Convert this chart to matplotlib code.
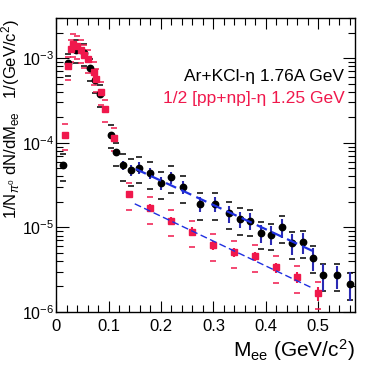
import matplotlib.pyplot as plt
import numpy as np
from matplotlib.ticker import MultipleLocator, LogLocator, NullFormatter

plt.rcParams['font.family'] = ['Liberation Sans', 'DejaVu Sans']
plt.rcParams['mathtext.fontset'] = 'custom'
plt.rcParams['mathtext.rm'] = 'Liberation Sans'
plt.rcParams['mathtext.it'] = 'Liberation Sans:italic'

# Ar+KCl - eta, 1.76A GeV
ar_m = [0.013, 0.0225, 0.0385, 0.054, 0.064, 0.075, 0.084, 0.104, 0.114, 0.1275,
        0.142, 0.159, 0.18, 0.201, 0.22, 0.243, 0.274, 0.304, 0.329, 0.35,
        0.369, 0.39, 0.409, 0.43, 0.45, 0.47, 0.49, 0.51, 0.536, 0.56]
ar_y = [5.4e-5, 8.7e-4, 1.25e-3, 1.15e-3, 7.6e-4, 5.5e-4, 3.75e-4, 1.25e-4, 7.7e-5, 5.4e-5,
        4.8e-5, 5.1e-5, 4.4e-5, 3.35e-5, 3.9e-5, 3.0e-5, 1.9e-5, 1.9e-5, 1.46e-5, 1.25e-5,
        1.2e-5, 8.6e-6, 8.2e-6, 1.0e-5, 6.5e-6, 6.7e-6, 4.4e-6, 2.75e-6, 2.7e-6, 2.15e-6]
ar_stat = [0.05, 0.03, 0.03, 0.03, 0.03, 0.03, 0.04, 0.06, 0.08, 0.12,
           0.15, 0.15, 0.15, 0.17, 0.17, 0.18, 0.2, 0.2, 0.22, 0.22,
           0.22, 0.25, 0.25, 0.25, 0.28, 0.28, 0.3, 0.35, 0.3, 0.38]
ar_sys = [0.35, 0.3, 0.3, 0.3, 0.3, 0.3, 0.3, 0.3, 0.3, 0.35,
          0.35, 0.35, 0.35, 0.35, 0.35, 0.35, 0.35, 0.35, 0.35, 0.35,
          0.35, 0.35, 0.35, 0.35, 0.35, 0.35, 0.35, 0.35, 0.35, 0.35]

# 1/2 [pp+np] - eta, 1.25 GeV
pp_m = [0.0175, 0.0225, 0.028, 0.033, 0.040, 0.048, 0.054, 0.061, 0.073, 0.077,
        0.085, 0.094, 0.110, 0.139, 0.18, 0.22, 0.26, 0.299, 0.339, 0.38,
        0.42, 0.46, 0.50]
pp_y = [1.25e-4, 8.0e-4, 1.28e-3, 1.48e-3, 1.4e-3, 1.25e-3, 1.1e-3, 9.7e-4, 6.9e-4, 5.7e-4,
        4.0e-4, 2.5e-4, 1.14e-4, 2.45e-5, 1.7e-5, 1.2e-5, 8.9e-6, 6.2e-6, 5.1e-6, 4.6e-6,
        3.36e-6, 2.57e-6, 1.66e-6]
pp_stat = [0.04, 0.03, 0.03, 0.03, 0.03, 0.03, 0.03, 0.03, 0.03, 0.03,
           0.04, 0.05, 0.06, 0.1, 0.1, 0.12, 0.12, 0.12, 0.12, 0.12,
           0.14, 0.15, 0.18]
pp_sys = [0.35, 0.3, 0.3, 0.3, 0.3, 0.3, 0.3, 0.3, 0.3, 0.3,
          0.3, 0.3, 0.3, 0.35, 0.35, 0.35, 0.35, 0.35, 0.35, 0.35,
          0.35, 0.35, 0.35]

# exponential fits (endpoints)
ar_fit_m = [0.152, 0.497]
ar_fit_y = [4.9e-5, 5.0e-6]
pp_fit_m = [0.15, 0.49]
pp_fit_y = [1.9e-5, 1.9e-6]

red = '#f0184c'
navy = '#2a2ab4'

fig = plt.figure(figsize=(3.74, 3.74), dpi=100)
ax = fig.add_axes([0.150, 0.166, 0.799, 0.786])


def draw(ax, m, y, stat, sys, marker, mcol, ecol, dcol, ms, z):
    m = np.array(m)
    y = np.array(y)
    stat = np.array(stat)
    sys = np.array(sys)
    ax.errorbar(m, y, yerr=y * stat, fmt='none', ecolor=ecol, elinewidth=1.5, capsize=0, zorder=z)
    ax.plot(m, y * (1 + sys), ls='none', marker='_', ms=4.5, mew=1.1, color=dcol, zorder=2)
    ax.plot(m, y * (1 - sys), ls='none', marker='_', ms=4.5, mew=1.1, color=dcol, zorder=2)
    ax.plot(m, y, ls='none', marker=marker, ms=ms, color=mcol, mec=mcol, zorder=z + 1)


draw(ax, ar_m, ar_y, ar_stat, ar_sys, 'o', 'black', navy, 'black', 4.6, 3)
draw(ax, pp_m, pp_y, pp_stat, pp_sys, 's', red, red, red, 4.0, 5)

xs = np.linspace(ar_fit_m[0], ar_fit_m[1], 50)
k = np.log(ar_fit_y[1] / ar_fit_y[0]) / (ar_fit_m[1] - ar_fit_m[0])
ax.plot(xs, ar_fit_y[0] * np.exp(k * (xs - ar_fit_m[0])), color='#1f2fe0', ls=(0, (5, 2.5)), lw=1.6, zorder=7)
xs = np.linspace(pp_fit_m[0], pp_fit_m[1], 50)
k = np.log(pp_fit_y[1] / pp_fit_y[0]) / (pp_fit_m[1] - pp_fit_m[0])
ax.plot(xs, pp_fit_y[0] * np.exp(k * (xs - pp_fit_m[0])), color='#1f2fe0', ls=(0, (5, 2.5)), lw=1.0, zorder=7)

ax.set_yscale('log')
ax.set_xlim(0, 0.57)
ax.set_ylim(1e-6, 3e-3)
ax.xaxis.set_major_locator(MultipleLocator(0.1))
ax.xaxis.set_minor_locator(MultipleLocator(0.02))
ax.yaxis.set_major_locator(LogLocator(base=10, numticks=10))
ax.yaxis.set_minor_locator(LogLocator(base=10, subs=np.arange(2, 10), numticks=20))
ax.yaxis.set_minor_formatter(NullFormatter())
ax.tick_params(which='both', direction='in', top=True, right=True, labelsize=11.5, pad=1.5)
ax.tick_params(which='major', length=9, width=0.8)
ax.tick_params(which='minor', length=5, width=0.8)
ax.tick_params(axis='x', which='major', length=8, pad=5, labelsize=12)
ax.xaxis.set_major_formatter(plt.FuncFormatter(lambda v, p: '0' if abs(v) < 1e-9 else f'{v:.1f}'))
for s in ax.spines.values():
    s.set_linewidth(1.0)

ax.set_xlabel(r'M$_{\mathrm{ee}}$ (GeV/c$^{2}$)', fontsize=15, loc='right', labelpad=2)
fig.text(11 / 374, 1 - 19 / 374, r'1/N$_{\pi^{0}}$ dN/dM$_{\mathrm{ee}}$   1/(GeV/c$^{2}$)',
         rotation=90, ha='center', va='top', fontsize=12)

ax.text(0.965, 0.80, 'Ar+KCl-η 1.76A GeV', transform=ax.transAxes, ha='right', va='center',
        fontsize=12.5, color='black')
ax.text(0.965, 0.725, '1/2 [pp+np]-η 1.25 GeV', transform=ax.transAxes, ha='right', va='center',
        fontsize=12.5, color=red)

fig.savefig('out.png', dpi=100)
